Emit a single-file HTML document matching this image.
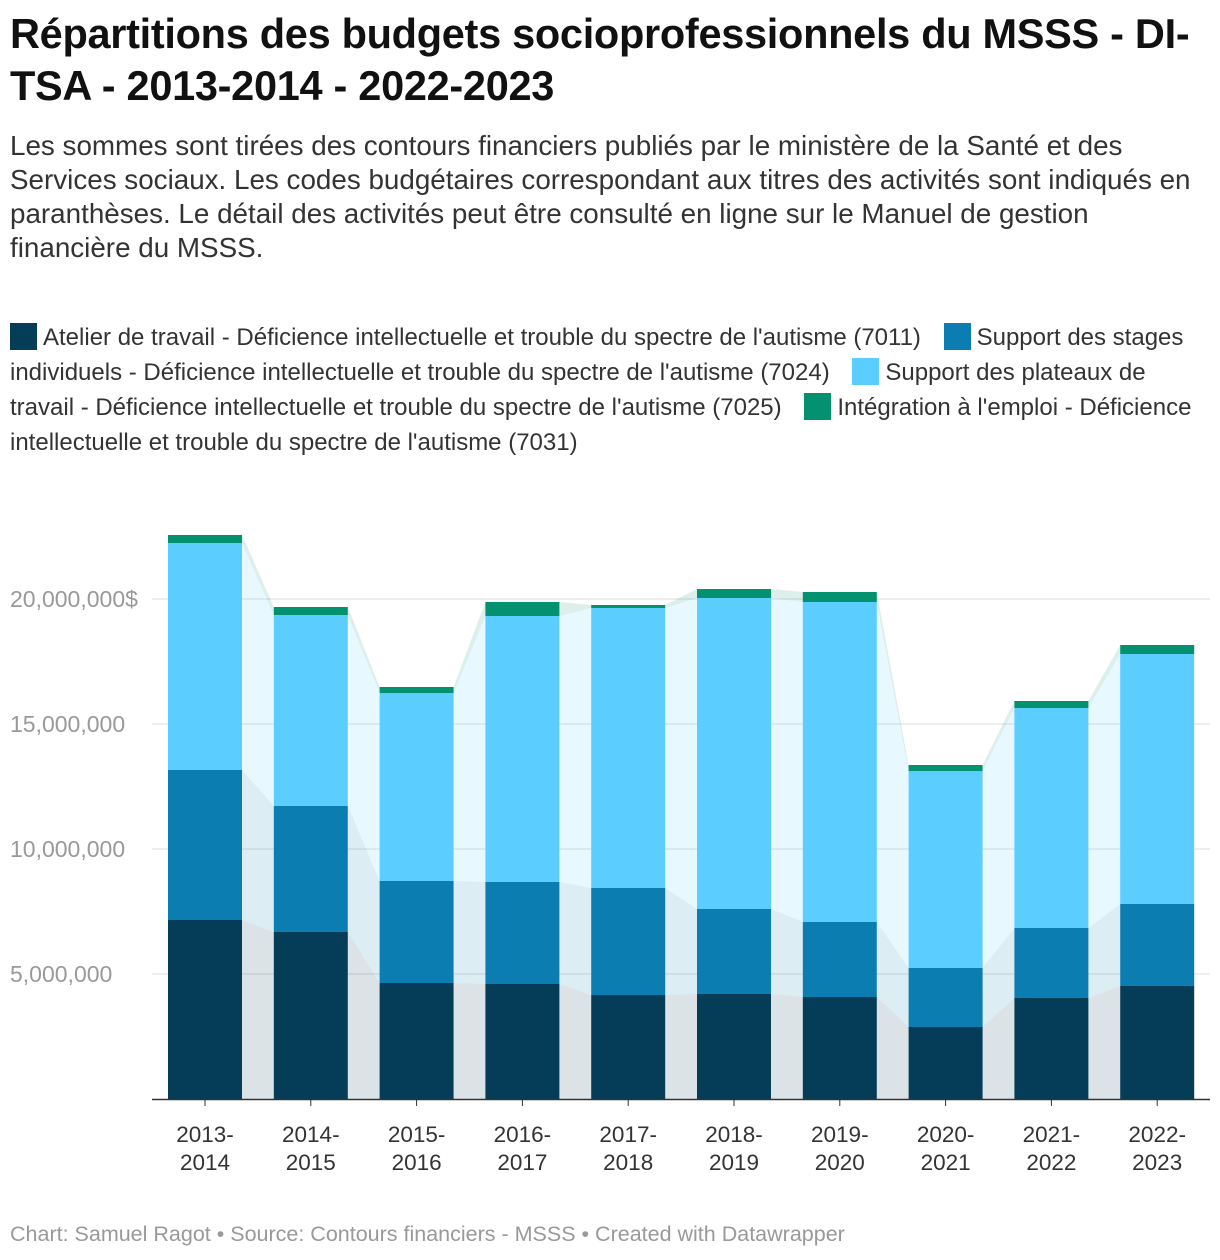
<!DOCTYPE html>
<html><head><meta charset="utf-8"><style>
body{margin:0;width:1220px;height:1260px;background:#fff;font-family:"Liberation Sans",sans-serif;overflow:hidden;position:relative}
#title{position:absolute;left:10px;top:8px;width:1205px;font-size:41.5px;font-weight:bold;line-height:52px;color:#111;letter-spacing:-0.3px}
#sub{position:absolute;left:10px;top:129px;width:1215px;font-size:27.8px;line-height:34px;color:#333;white-space:nowrap}
#legend{position:absolute;left:10px;top:320px;width:1205px;font-size:24px;line-height:35px;color:#333}
.sw{display:inline-block;width:27px;height:27px;vertical-align:-5px;margin-right:6px}
.le{margin-right:16px}
#foot{position:absolute;left:10px;top:1222px;font-size:21.5px;color:#999}
svg{position:absolute;left:0;top:0}
</style></head><body>
<div id="title">Répartitions des budgets socioprofessionnels du MSSS - DI-TSA - 2013-2014 - 2022-2023</div>
<div id="sub">Les sommes sont tirées des contours financiers publiés par le ministère de la Santé et des<br>Services sociaux. Les codes budgétaires correspondant aux titres des activités sont indiqués en<br>paranthèses. Le détail des activités peut être consulté en ligne sur le Manuel de gestion<br>financière du MSSS.</div>
<div id="legend"><span class="le"><span class="sw" style="background:#053c57"></span>Atelier de travail - Déficience intellectuelle et trouble du spectre de l'autisme (7011)</span> <span class="le"><span class="sw" style="background:#0b7db0"></span>Support des stages individuels - Déficience intellectuelle et trouble du spectre de l'autisme (7024)</span> <span class="le"><span class="sw" style="background:#5ccdff"></span>Support des plateaux de travail - Déficience intellectuelle et trouble du spectre de l'autisme (7025)</span> <span class="le"><span class="sw" style="background:#04916f"></span>Intégration à l'emploi - Déficience intellectuelle et trouble du spectre de l'autisme (7031)</span></div>
<svg id="chart" width="1220" height="1260"></svg>
<div id="foot">Chart: Samuel Ragot • Source: Contours financiers - MSSS • Created with Datawrapper</div>
<script>
const categories=["2013-2014","2014-2015","2015-2016","2016-2017","2017-2018","2018-2019","2019-2020","2020-2021","2021-2022","2022-2023"];
const atelier=[7.16,6.68,4.64,4.6,4.16,4.2,4.08,2.88,4.04,4.52];
const stages=[6.0,5.04,4.08,4.08,4.28,3.4,3.0,2.36,2.8,3.28];
const plateaux=[9.08,7.64,7.52,10.64,11.2,12.44,12.8,7.88,8.8,10.0];
const integration=[0.32,0.32,0.24,0.56,0.12,0.36,0.4,0.24,0.28,0.36];
const yTicks=[5,10,15,20];
const yTickLabels=["5,000,000","10,000,000","15,000,000","20,000,000$"];
const series=[atelier,stages,plateaux,integration];
const colors=["#053c57","#0b7db0","#5ccdff","#04916f"];
const names=["atelier","stages","plateaux","integration"];
const svg=document.getElementById('chart');const NS="http://www.w3.org/2000/svg";
const y=v=>1099-v*25;const xc=i=>205+i*105.8;const bw=74;
function mk(t,a){const e=document.createElementNS(NS,t);for(const k in a)e.setAttribute(k,a[k]);svg.appendChild(e);return e;}
yTicks.forEach((t,i)=>{
 const l=mk('line',{x1:152,x2:1210,y1:y(t),y2:y(t),stroke:'#ddd','stroke-width':1});
 
 
 const tx=mk('text',{x:10,y:y(t)+8,fill:'#999','font-size':23});tx.textContent=yTickLabels[i];
 
 
});
const cum=categories.map(()=>0);
series.forEach((s,si)=>{
 const base=cum.slice();s.forEach((v,i)=>cum[i]+=v);
 for(let i=0;i<categories.length-1;i++){
  const x1=xc(i)+bw/2,x2=xc(i+1)-bw/2;
  const p=mk('polygon',{points:`${x1},${y(base[i])} ${x1},${y(cum[i])} ${x2},${y(cum[i+1])} ${x2},${y(base[i+1])}`,fill:colors[si],'fill-opacity':0.14});
  
  
 }
 s.forEach((v,i)=>{
  const r=mk('rect',{x:xc(i)-bw/2,y:y(cum[i]),width:bw,height:v*25,fill:colors[si]});
  
  
 });
});
const ax=mk('line',{x1:152,x2:1210,y1:1099.5,y2:1099.5,stroke:'#333','stroke-width':1.5});


categories.forEach((c,i)=>{
 mk('line',{x1:xc(i),x2:xc(i),y1:1100,y2:1106,stroke:'#333'});
 const p=c.split('-');
 const t=mk('text',{x:xc(i),y:1142,'text-anchor':'middle','font-size':22.5,fill:'#333'});t.textContent=p[0]+'-';
 
 
 const t2=mk('text',{x:xc(i),y:1170,'text-anchor':'middle','font-size':22.5,fill:'#333'});t2.textContent=p[1];
 
 
});
</script>
</body></html>
